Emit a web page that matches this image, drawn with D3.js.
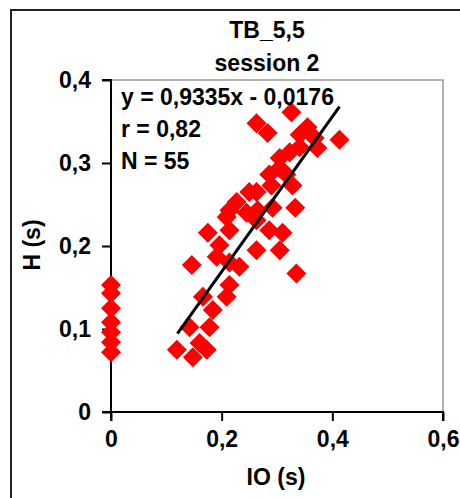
<!DOCTYPE html>
<html><head><meta charset="utf-8">
<script src="https://cdn.jsdelivr.net/npm/d3@7"></script>
<style>
body{margin:0;background:#fff;}
text{font-family:"Liberation Sans",Arial,sans-serif;font-weight:bold;fill:#000;}
</style></head>
<body>
<svg id="c" width="460" height="498"></svg>
<script>
// Data: IO (s) vs H (s)
const ioValues = [0,0,0,0,0,0,0,
0.326,0.263,0.283,0.413,0.355,0.341,0.368,0.373,0.341,0.323,0.305,0.305,0.286,0.317,0.328,0.290,
0.250,0.227,0.263,0.333,0.292,0.214,0.245,0.209,0.265,0.175,0.214,0.263,0.310,0.286,0.263,0.305,
0.335,0.191,0.214,0.146,0.232,0.209,0.166,0.184,0.178,0.142,0.160,0.119,0.148,0.173,0.214,0.196];
const hValues = [0.153,0.143,0.125,0.108,0.096,0.084,0.072,
0.361,0.348,0.336,0.328,0.343,0.334,0.330,0.318,0.319,0.313,0.306,0.294,0.286,0.286,0.273,0.273,
0.265,0.253,0.265,0.246,0.246,0.243,0.240,0.235,0.243,0.216,0.219,0.231,0.216,0.219,0.195,0.195,
0.167,0.187,0.180,0.177,0.175,0.139,0.139,0.123,0.102,0.102,0.083,0.075,0.066,0.075,0.153,0.201];
const xTicks = [0,0.2,0.4,0.6];
const yTicks = [0,0.1,0.2,0.3,0.4];
const slope = 0.9335, intercept = -0.0176;
const trendRange = [0.12, 0.413];
const titleLines = ["TB_5,5","session 2"];
const statLines = ["y = 0,9335x - 0,0176","r = 0,82","N = 55"];

const svg = d3.select("#c");
const fmt = v => (v===0?"0":String(v).replace(".",","));
const L=111,R=443,T=80,B=412;
const FS="23px";
const x = d3.scaleLinear().domain([0,0.6]).range([L,R]);
const y = d3.scaleLinear().domain([0,0.4]).range([B,T]);

// outer border
svg.append("rect").attr("x",11).attr("y",10).attr("width",480).attr("height",520)
  .attr("fill","none").attr("stroke","#222").attr("stroke-width",2);

// plot area frame (top/right gray)
svg.append("path").attr("d",`M${L},${T}H${R}V${B}`).attr("fill","none").attr("stroke","#999").attr("stroke-width",1.5);

// axes
const ya = d3.axisLeft(y).tickValues(yTicks).tickSize(9).tickPadding(11).tickFormat(fmt);
const xa = d3.axisBottom(x).tickValues(xTicks).tickSize(9).tickPadding(10).tickFormat(fmt);
const gy = svg.append("g").attr("transform",`translate(${L},0)`).call(ya);
const gx = svg.append("g").attr("transform",`translate(0,${B})`).call(xa);
[gy,gx].forEach(g=>{
  g.select(".domain").attr("stroke","#000").attr("stroke-width",2);
  g.selectAll(".tick line").attr("stroke","#000").attr("stroke-width",2);
  g.selectAll(".tick text").style("font-size",FS).style("font-family","'Liberation Sans',Arial,sans-serif").style("font-weight","bold").attr("fill","#000");
});
gy.select(".domain").attr("d",`M-9,${B}H0V${T}H-9`);
gx.select(".domain").attr("d",`M${L},9V0H${R}V9`);

// points
const pts = ioValues.map((v,i)=>[v,hValues[i]]);
const s=10;
svg.append("g").selectAll("path").data(pts).join("path")
  .attr("d",d=>{const cx=x(d[0]),cy=y(d[1]);return `M${cx},${cy-s}L${cx+s},${cy}L${cx},${cy+s}L${cx-s},${cy}Z`;})
  .attr("fill","#ff0000");

// trend line
svg.append("line")
  .attr("x1",x(trendRange[0])).attr("y1",y(slope*trendRange[0]+intercept))
  .attr("x2",x(trendRange[1])).attr("y2",y(slope*trendRange[1]+intercept))
  .attr("stroke","#000").attr("stroke-width",3);

// stats text
svg.append("g").selectAll("text").data(statLines).join("text")
  .attr("x",121).attr("y",(d,i)=>105+i*32).style("font-size",FS).text(d=>d);

// title
svg.append("g").selectAll("text").data(titleLines).join("text")
  .attr("x",267).attr("y",(d,i)=>38+i*32.5).attr("text-anchor","middle").style("font-size",FS).text(d=>d);

// axis titles
svg.append("text").attr("x",276).attr("y",485).attr("text-anchor","middle").style("font-size",FS).text("IO (s)");
svg.append("text").attr("transform","translate(40,245) rotate(-90)").attr("text-anchor","middle").style("font-size",FS).text("H (s)");
</script>
</body></html>
